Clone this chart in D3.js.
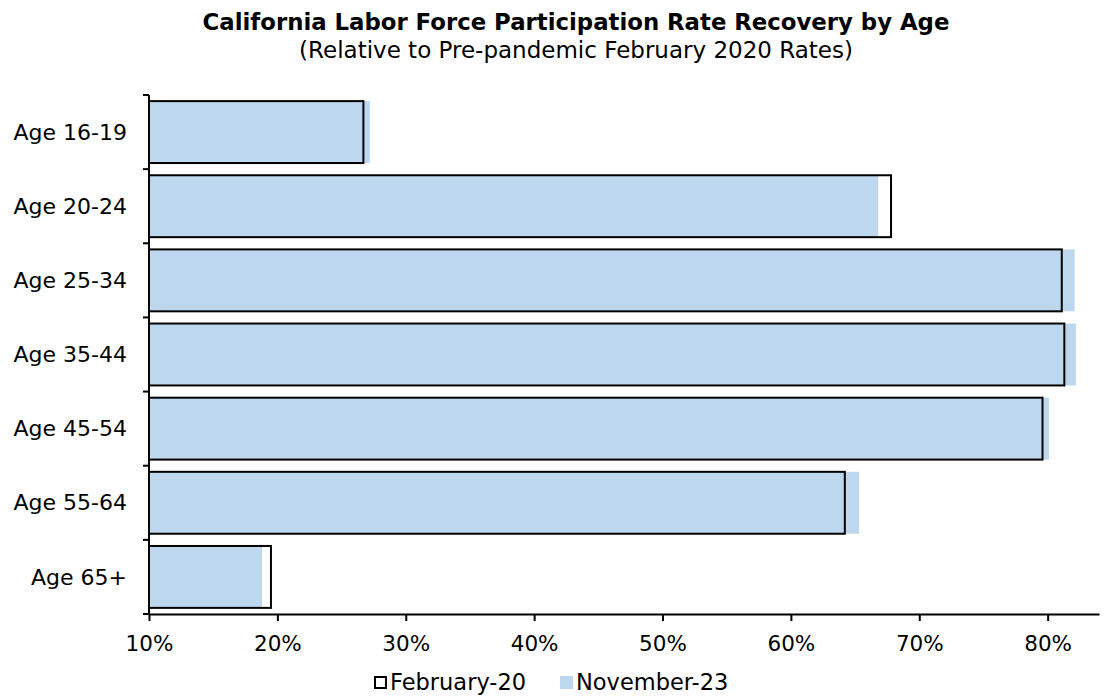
<!DOCTYPE html>
<html lang="en">
<head>
  <meta charset="UTF-8">
  <title>California Labor Force Participation Rate Recovery by Age</title>
  <style>
    body { margin: 0; background: #fff; }
    svg text { font-family: 'Century Gothic', 'DejaVu Sans', sans-serif; fill: #000; }
    .title { font-size: 22.8px; font-weight: bold; }
    .subtitle { font-size: 23px; }
    .axis text { font-size: 21.5px; }
    .yaxis text { font-size: 22px; }
    .axis path, .axis line { stroke: #000; stroke-width: 2px; }
    .legend text { font-size: 22.5px; }
  </style>
</head>
<body>
  <svg width="1104" height="696"></svg>
  <script src="https://cdn.jsdelivr.net/npm/d3@7"></script>
  <script>
    var ages = ['Age 16-19', 'Age 20-24', 'Age 25-34', 'Age 35-44', 'Age 45-54', 'Age 55-64', 'Age 65+']
    var feb20 = [26.7, 67.8, 81.1, 81.3, 79.6, 64.2, 19.5]
    var nov23 = [27.2, 66.8, 82.1, 82.2, 80.1, 65.3, 18.8]
    var xTicks = [10, 20, 30, 40, 50, 60, 70, 80]
    var seriesNames = ['February-20', 'November-23']

    var svg = d3.select('svg')
    var blue = '#bdd7ee'

    var x = d3.scaleLinear()
      .domain([10, 84])
      .range([149, 1099])

    var y = d3.scaleBand()
      .domain(ages)
      .range([95, 614])
      .paddingInner(0.165)
      .paddingOuter(0.0825)

    // title
    svg.append('text')
      .attr('class', 'title')
      .attr('x', 576)
      .attr('y', 30)
      .attr('text-anchor', 'middle')
      .text('California Labor Force Participation Rate Recovery by Age')
    svg.append('text')
      .attr('class', 'subtitle')
      .attr('x', 576)
      .attr('y', 58)
      .attr('text-anchor', 'middle')
      .text('(Relative to Pre-pandemic February 2020 Rates)')

    var rows = ages.map(function(a, i) {
      return { age: a, feb: feb20[i], nov: nov23[i] }
    })

    var g = svg.append('g')

    // white backing of the Feb bars
    g.selectAll('.feb-bg')
      .data(rows)
      .enter()
      .append('rect')
      .attr('x', x(10))
      .attr('y', function(d) { return y(d.age) })
      .attr('width', function(d) { return x(d.feb) - x(10) })
      .attr('height', y.bandwidth())
      .attr('fill', '#fff')

    g.selectAll('.nov')
      .data(rows)
      .enter()
      .append('rect')
      .attr('x', x(10))
      .attr('y', function(d) { return y(d.age) })
      .attr('width', function(d) { return x(d.nov) - x(10) })
      .attr('height', y.bandwidth())
      .attr('fill', blue)

    g.selectAll('.feb')
      .data(rows)
      .enter()
      .append('rect')
      .attr('x', x(10))
      .attr('y', function(d) { return y(d.age) })
      .attr('width', function(d) { return x(d.feb) - x(10) })
      .attr('height', y.bandwidth())
      .attr('fill', 'none')
      .attr('stroke', '#000')
      .attr('stroke-width', 2)

    // x axis
    var xAxis = svg.append('g')
      .attr('class', 'axis')
      .attr('transform', 'translate(0,614)')
      .call(d3.axisBottom(x)
        .tickValues(xTicks)
        .tickSize(7)
        .tickSizeOuter(0)
        .tickPadding(15)
        .tickFormat(function(d) { return d + '%' }))
    xAxis.selectAll('text').attr('dy', '0.71em')

    // y axis: ticks sit on the band boundaries
    var yAxis = svg.append('g')
      .attr('class', 'axis yaxis')
      .attr('transform', 'translate(149,0)')
      .call(d3.axisLeft(y).tickSize(0).tickPadding(22))
    yAxis.select('.domain').remove()
    yAxis.selectAll('text').attr('dy', '0.35em')

    var bounds = ages.map(function(a) { return y(a) - y.step() * y.paddingInner() / 2 })
    bounds.push(y(ages[ages.length - 1]) + y.bandwidth() + y.step() * y.paddingInner() / 2)
    svg.append('line')
      .attr('x1', 149).attr('x2', 149)
      .attr('y1', bounds[0]).attr('y2', bounds[bounds.length - 1])
      .attr('stroke', '#000').attr('stroke-width', 2)
    svg.selectAll('.ytick')
      .data(bounds)
      .enter()
      .append('line')
      .attr('x1', 143).attr('x2', 149)
      .attr('y1', function(d) { return d })
      .attr('y2', function(d) { return d })
      .attr('stroke', '#000').attr('stroke-width', 2)

    // legend
    var legend = svg.append('g').attr('class', 'legend')
    var lx = [374, 560]
    seriesNames.forEach(function(name, i) {
      var item = legend.append('g').attr('transform', 'translate(' + lx[i] + ',676)')
      item.append('rect')
        .attr('x', i === 0 ? 1 : 0).attr('y', i === 0 ? 1 : 0)
        .attr('width', i === 0 ? 11 : 13).attr('height', i === 0 ? 11 : 13)
        .attr('fill', i === 0 ? '#fff' : blue)
        .attr('stroke', i === 0 ? '#000' : 'none')
        .attr('stroke-width', 2)
      item.append('text')
        .attr('x', 16)
        .attr('y', 6)
        .attr('dy', '0.35em')
        .text(name)
    })
  </script>
</body>
</html>
